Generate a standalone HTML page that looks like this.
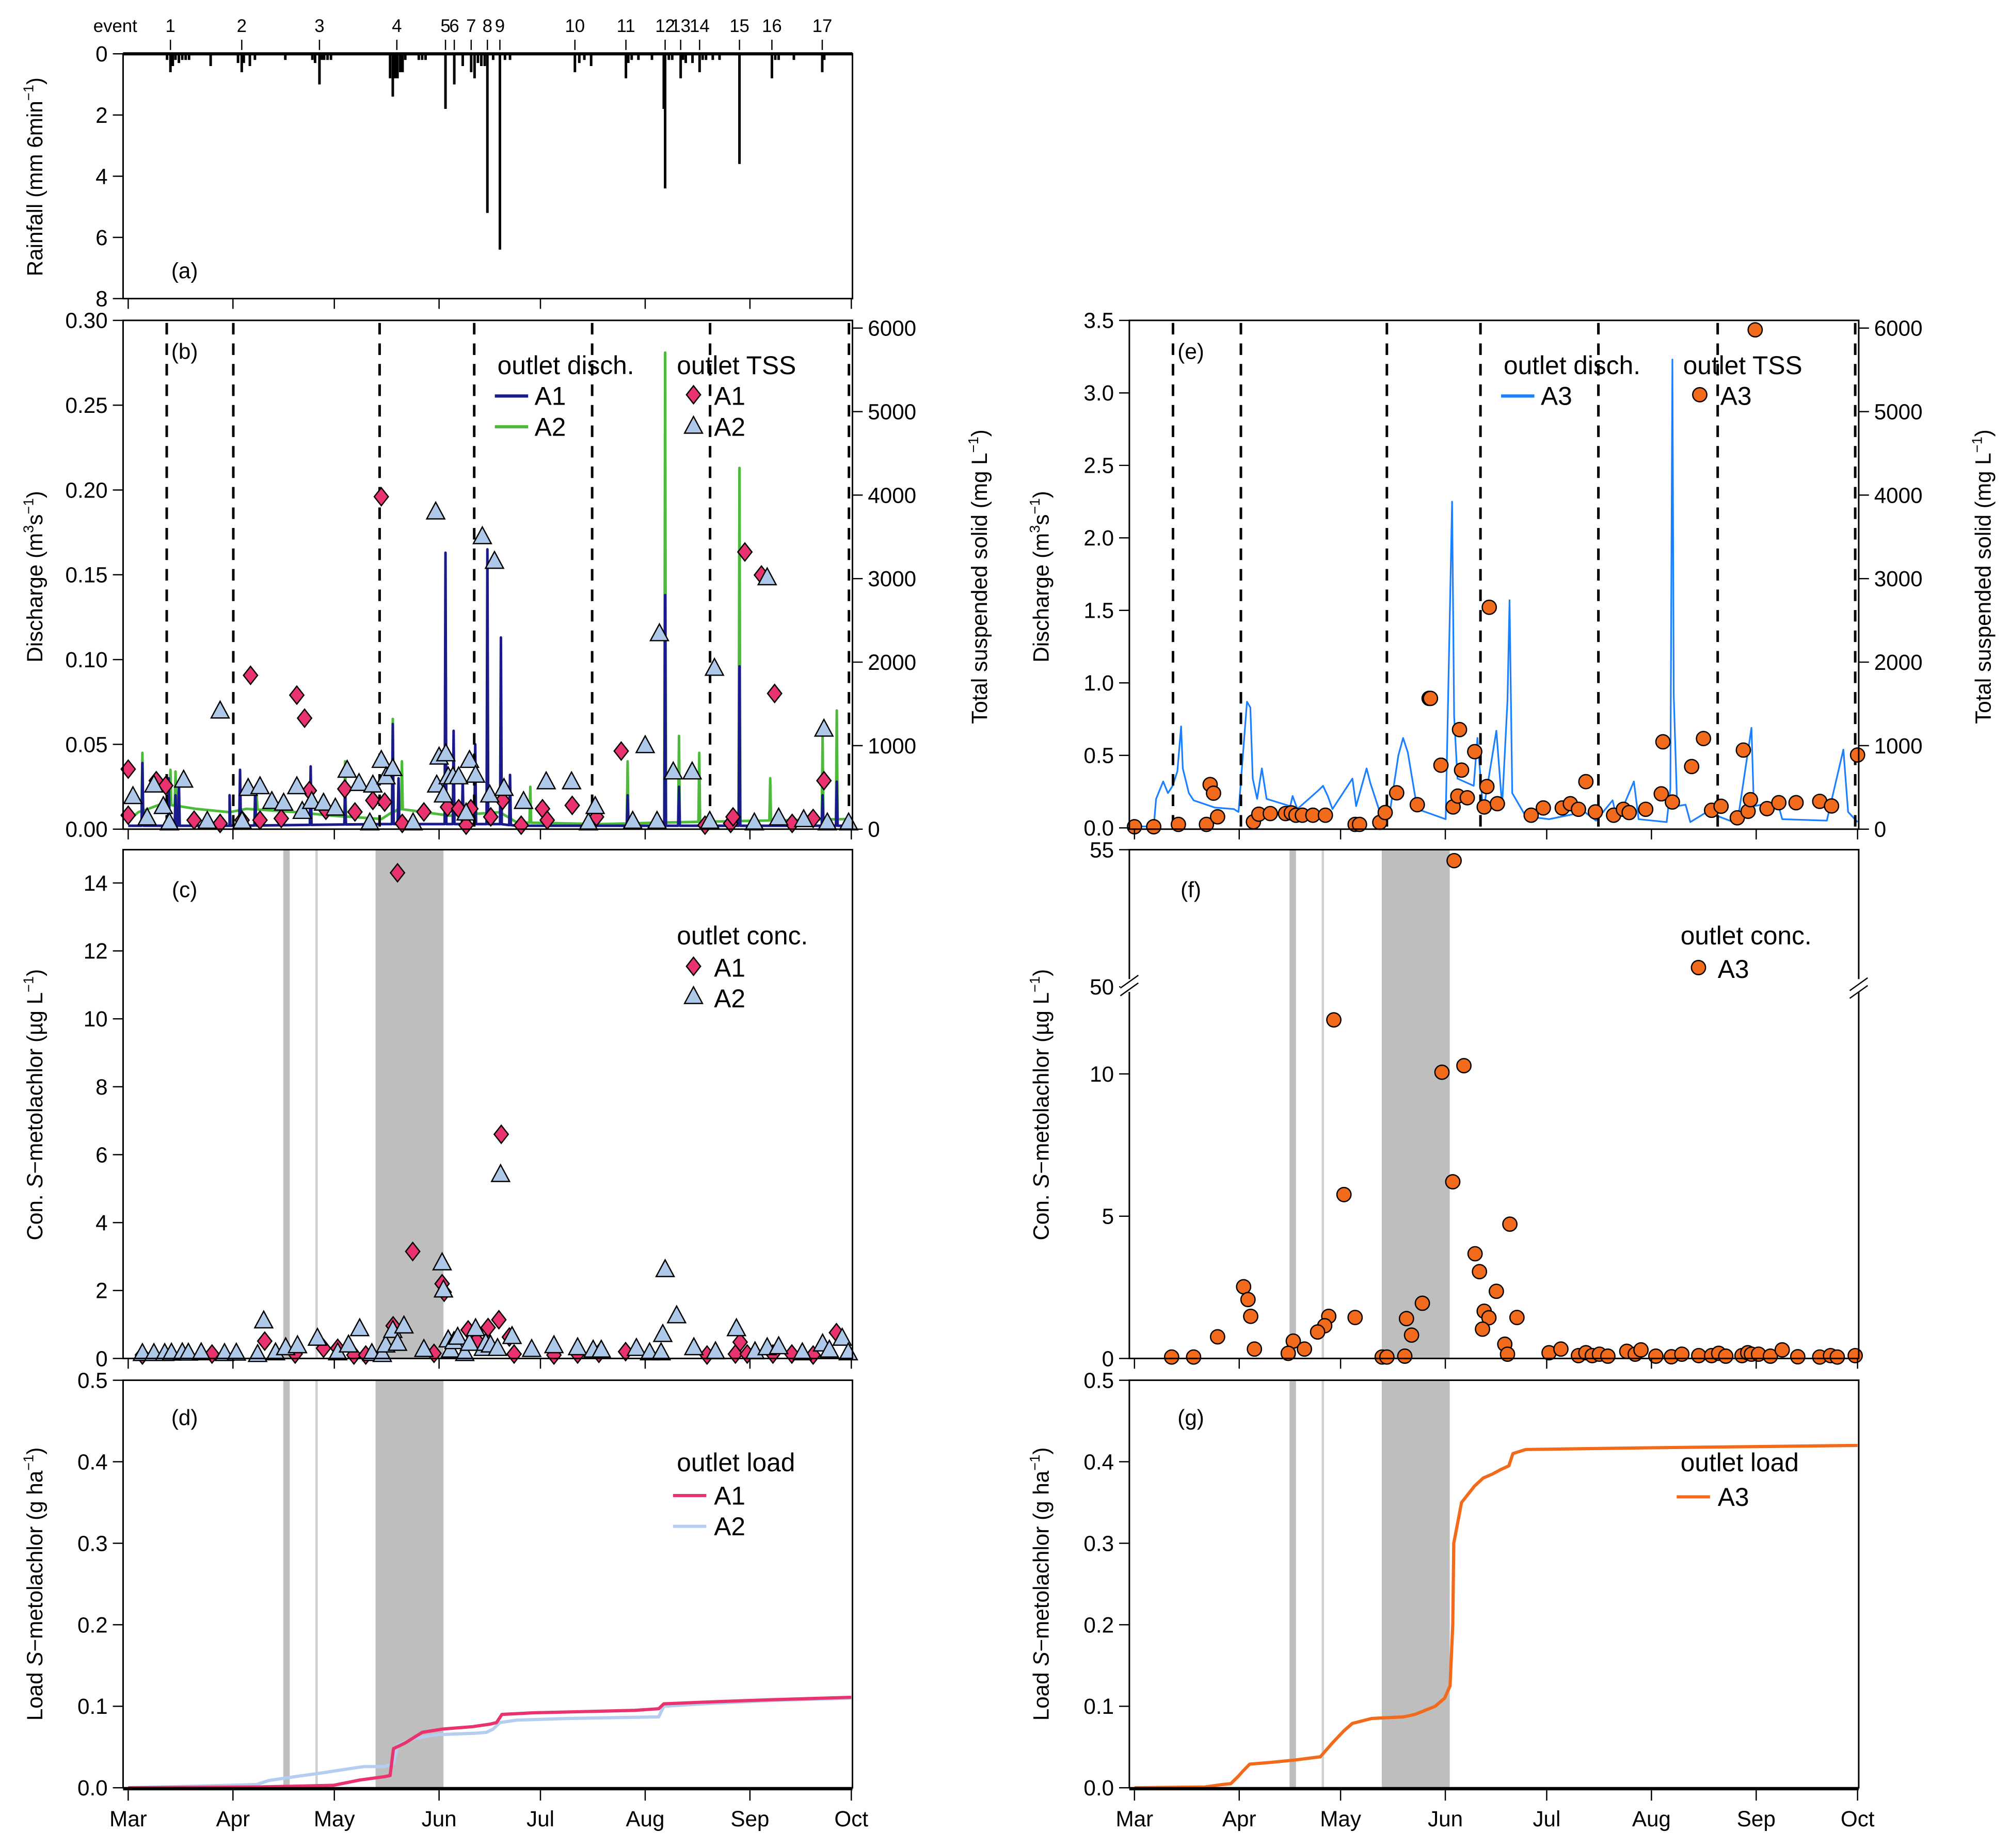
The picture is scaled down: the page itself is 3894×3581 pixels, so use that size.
<!DOCTYPE html>
<html><head><meta charset="utf-8">
<style>
html,body{margin:0;padding:0;background:#fff;}
svg{display:block;font-family:"Liberation Sans",sans-serif;}
</style></head>
<body>
<svg id="chart" xmlns="http://www.w3.org/2000/svg" width="3894" height="3581" viewBox="0 0 1568 1442"></svg>
<script>
// ---------- DATA ----------
const monthLabels = ["Mar","Apr","May","Jun","Jul","Aug","Sep","Oct"];
const monthDays = [0,31,61,92,122,153,184,214];
const eventLabels = ["1","2","3","4","5","6","7","8","9","10","11","12","13","14","15","16","17"];
const eventDays = [12.5,33.6,56.6,79.5,93.9,96.5,101.5,106.3,110,132.2,147.3,158.9,163.5,169.1,180.9,190.5,205.4];
const rainDays = [11.5,12.5,13.2,14,15,16,17,18,24.4,32.5,33.6,34.2,36,37.5,46.5,54.5,55.3,56.6,57.3,58,59,60,77.5,78.3,79,79.7,80.5,81.2,82,86,87,88,93.9,96.5,99,101.5,102.5,103.5,104.5,105.5,106.3,108,110,111.5,113,132.2,133.5,135,137,147.3,148,149,151,155,158.5,158.9,160,161,163.5,164.2,165,167,169.1,170,171,173,175,180.9,190.5,191.5,192.5,197,205.4,206];
const rainVals = [0.2,0.6,0.4,0.2,0.3,0.2,0.2,0.2,0.4,0.3,0.6,0.3,0.4,0.2,0.2,0.2,0.3,1.0,0.2,0.2,0.2,0.2,0.8,1.4,0.8,0.8,0.6,0.6,0.2,0.2,0.2,0.2,1.8,1.0,0.4,0.6,0.8,0.3,0.4,0.4,5.2,0.2,6.4,0.2,0.2,0.6,0.3,0.2,0.4,0.8,0.3,0.2,0.2,0.2,1.8,4.4,0.2,0.2,0.8,0.2,0.3,0.3,0.6,0.2,0.2,0.2,0.2,3.6,0.8,0.2,0.2,0.2,0.6,0.2];

const dashDaysL = [11.4,31.1,74.4,102.4,137.3,172.2,213.3];
const dashDaysR = [11.4,31.5,74.7,102.4,137.3,172.6,213.3];

// discharge A1/A2: baseline + spikes
const a1BaseDays = [0,30,75,110,115,214];
const a1BaseVals = [0.002,0.002,0.003,0.003,0.002,0.002];
const a1SpikeDays = [4.2,12,14,15,30,33.1,37.6,54,64.2,78.3,80,93.9,96.3,99,102.7,106.3,110.3,113,147.8,158.9,163,180.9,205.5,209.7];
const a1SpikeVals = [0.039,0.03,0.02,0.028,0.02,0.035,0.025,0.037,0.02,0.062,0.03,0.163,0.058,0.03,0.05,0.165,0.113,0.032,0.02,0.138,0.025,0.096,0.02,0.028];
const a2BaseDays = [0,3,10,20,30,35,50,60,75,80,95,110,115,140,160,214];
const a2BaseVals = [0.005,0.01,0.015,0.012,0.01,0.012,0.01,0.008,0.006,0.012,0.008,0.01,0.004,0.003,0.004,0.006];
const a2SpikeDays = [4.2,12.5,14,38,64.2,78.3,81,119,147.8,158.9,163,169,180.9,190,205.5,209.7];
const a2SpikeVals = [0.045,0.035,0.034,0.02,0.04,0.065,0.04,0.025,0.04,0.281,0.055,0.045,0.213,0.03,0.055,0.07];

const tssA1Days = [0,0,8.3,11.1,19.5,27.2,33.7,36.2,39,45.3,49.9,52.2,53.6,58.5,64.1,67.1,72.4,75.9,74.9,81.1,87.5,94.5,97.8,100,101.4,107.3,110.8,116.3,122.6,124,131.4,138.6,145.9,170.7,178.3,179,182.5,187.4,191.3,196.5,202.7,205.9];
const tssA1Vals = [719,167,581,522,108,69,108,1842,108,128,1605,1329,462,226,482,206,344,324,3981,69,206,265,245,48,245,147,344,48,245,108,285,147,935,48,69,147,3319,3043,1625,69,128,581];
const tssA2Days = [1.4,5.6,7.6,10.4,12.2,16.4,23.4,27.2,33.7,35.5,39,42.5,46,49.9,51.5,54.3,57.8,61.3,64.8,68.3,71.5,72.4,74.9,76.3,78.3,84.3,91,91.3,92,93.3,94,94.7,96.1,97.8,100,101,102.8,104.8,107,108.4,111.2,117,123.7,131.2,136.2,138.2,149.3,153,156.5,157.2,161.3,166.9,172.1,173.5,185.3,189.1,192.5,199.9,205.9,206.9,213.2];
const tssA2Vals = [384,128,522,265,69,581,88,1408,88,482,502,325,305,502,206,325,305,246,699,541,69,522,817,620,719,69,3792,522,857,403,896,620,620,620,187,817,640,3496,403,3201,482,325,561,561,69,265,88,994,88,2334,679,679,88,1920,69,3004,128,108,1191,69,69];

const qA3Days = [0,0.1,0.8,5.7,6.4,8.5,9.9,11.3,12.7,13.8,14.3,16.1,17.5,23.8,29.4,30.8,33.3,34.3,35,36.3,37.7,39.1,46.1,46.8,48.2,54.5,55.8,57.2,58.6,64.5,65.6,68.7,69.8,72.6,75.4,78.1,79.5,80.9,83.7,92.1,94,94.6,95.6,100.4,101.5,103.2,107.1,108.8,110.4,111,111.8,115.8,122.7,133.2,136.6,141.5,142.9,147.8,149.2,157.5,158.6,159.2,159.6,160.6,163.1,164.5,169.4,178.4,182.6,183.3,190.3,191.7,204.9,209.8,211.2,214];
const qA3Vals = [0.05,0.05,0.01,0.01,0.2,0.32,0.24,0.29,0.39,0.7,0.41,0.24,0.19,0.14,0.13,0.11,0.87,0.83,0.34,0.2,0.41,0.2,0.15,0.22,0.13,0.26,0.29,0.22,0.13,0.34,0.15,0.41,0.31,0.11,0.08,0.5,0.62,0.52,0.13,0.06,2.25,0.77,0.34,0.29,0.62,0.11,0.67,0.15,0.88,1.57,0.24,0.08,0.06,0.11,0.05,0.19,0.05,0.32,0.06,0.04,0.27,3.23,0.91,0.15,0.16,0.04,0.11,0.03,0.69,0.15,0.18,0.06,0.05,0.54,0.11,0.04];
const tssA3Days = [0,5.7,13,21.3,22.4,23.4,24.6,35.2,36.8,40.2,44.7,46.4,47.8,49.7,52.8,56.5,65.3,66.6,72.6,74.2,77.6,83.7,87.2,87.6,90.7,94.3,95.7,96.2,96.8,98.5,100.7,103.5,104.3,105,107.4,117.4,121,126.6,129,131.4,133.6,136.4,141.8,144.7,146.4,151.3,155.9,156.4,159.2,164.9,168.4,170.8,173.6,178.4,180.2,181.6,182.3,183.7,187.2,190.7,195.8,202.8,206.3,214];
const tssA3Vals = [29,29,57,57,534,431,148,88,179,187,187,195,167,167,167,167,57,57,81,199,435,293,1566,1566,766,266,396,1192,707,376,928,266,510,2657,305,167,254,254,305,238,569,207,167,238,199,238,423,1046,325,750,1085,226,274,136,947,214,353,5979,246,317,317,333,278,888];

const concA1Days = [4.2,24.8,40.4,49.4,57.8,62,66.8,70.3,78.4,79.7,84.2,90.5,92.9,93.5,100.6,103.1,106.5,109.7,110.4,112.8,114.2,126,133,139.3,147.2,171.3,179.7,181.1,183.2,190.8,196.4,202.7,209.6];
const concA1Vals = [0.1,0.13,0.51,0.13,0.3,0.3,0.1,0.1,0.96,14.3,3.15,0.15,2.2,1.95,0.84,0.53,0.91,1.14,6.6,0.63,0.13,0.1,0.13,0.15,0.2,0.1,0.13,0.48,0.13,0.13,0.13,0.1,0.76];
const concA2Days = [4.2,7.6,10.8,12.8,16,17.8,21.6,28.5,32,38.3,40.1,43.6,46.6,50.1,56,62,65.2,68.5,72.1,75.2,76.2,78.3,79.7,81.6,87.5,92.9,93.3,94.7,95.4,96.4,97.5,99.6,101,102.8,105.1,105.8,107.2,109.3,110.2,113.6,119.4,126,133,137.6,140,150.4,154.3,157.7,158.2,158.9,162.3,167.4,173.8,180,185.5,189.1,192.5,199.5,205.5,207.5,211.3,213.1];
const concA2Vals = [0.13,0.13,0.13,0.14,0.15,0.14,0.15,0.13,0.14,0.1,1.09,0.15,0.3,0.36,0.58,0.15,0.38,0.86,0.13,0.1,0.38,0.81,0.43,0.94,0.25,2.8,2.0,0.53,0.23,0.48,0.61,0.13,0.43,0.86,0.28,0.43,0.38,0.28,5.4,0.63,0.25,0.36,0.3,0.23,0.23,0.28,0.15,0.15,0.69,2.6,1.24,0.3,0.18,0.86,0.18,0.3,0.33,0.15,0.41,0.23,0.58,0.15];

const concA3Days = [94.6,59,91,97.5,94.2,62,111.1,100.8,102.1,107.1,32.3,33.6,34.4,103.5,104.9,113.2,85.2,80.5,65.3,57.5,56.3,54.2,82,103,24.6,47,50.3,35.5,45.5,109.6,110.4,11,17.5,73.3,74.7,80,122.7,126.2,131.4,133.6,135.5,137.6,140.1,145.7,148.2,149.9,154.3,158.9,162,167,170.8,172.9,175,179.8,181.5,182.6,184.7,188.2,191.7,196.3,202.8,206,208,213.3];
const concA3Vals = [54.6,11.9,10.06,10.29,6.21,5.76,4.72,3.68,3.05,2.36,2.52,2.07,1.48,1.66,1.43,1.44,1.94,1.4,1.44,1.48,1.15,0.93,0.82,1.03,0.76,0.61,0.33,0.33,0.18,0.5,0.15,0.05,0.05,0.05,0.05,0.08,0.2,0.33,0.1,0.2,0.1,0.15,0.08,0.25,0.15,0.3,0.08,0.06,0.15,0.1,0.1,0.18,0.08,0.1,0.2,0.15,0.15,0.08,0.3,0.06,0.05,0.1,0.05,0.1];

const loadA1Days = [0,38,50,60.7,68.5,75.9,77.5,78.5,82,87,93,102,107,109,110.6,120,150,157,158.5,170,190,214];
const loadA1Vals = [0,0.001,0.002,0.003,0.0095,0.0137,0.015,0.048,0.055,0.068,0.072,0.075,0.078,0.08,0.09,0.092,0.095,0.097,0.103,0.105,0.108,0.111];
const loadA2Days = [0,20,30,38,41.7,50,57,68,70,76,78.5,79.7,84,91,103,106,108,110,115,130,157,158.5,170,190,214];
const loadA2Vals = [0,0.002,0.003,0.004,0.009,0.014,0.018,0.025,0.026,0.026,0.03,0.052,0.06,0.065,0.067,0.068,0.072,0.08,0.083,0.085,0.087,0.1,0.103,0.107,0.11];
const loadA3Days = [0,20.9,26,28.5,30.7,32,34.1,40,47.4,55,58.8,62,64.5,70.2,79.7,83,85.4,89,91.8,93.4,94.2,94.5,96.8,100.6,103.2,106,108.2,110.8,112,115.8,150,214];
const loadA3Vals = [0,0.001,0.004,0.005,0.014,0.02,0.029,0.031,0.034,0.038,0.056,0.07,0.079,0.085,0.087,0.09,0.094,0.1,0.11,0.125,0.2,0.3,0.35,0.37,0.38,0.385,0.39,0.395,0.41,0.415,0.417,0.42];

const shadeStart = [45.9,55.4,73.2];
const shadeEnd = [47.8,56.1,93.3];

// ---------- HELPERS ----------
const NS = "http://www.w3.org/2000/svg";
const svg = document.getElementById("chart");
function mk(tag, attrs, name, parent) {
  const el = document.createElementNS(NS, tag);
  for (const k in attrs) el.setAttribute(k, attrs[k]);
  
  
  (parent || svg).appendChild(el);
  return el;
}
function txt(x, y, s, size, name, anchor, parent) {
  const t = mk("text", {x:x, y:y, "font-size":size, "text-anchor":anchor||"middle", fill:"#000"}, name, parent);
  t.textContent = s;
  return t;
}
const XL0 = 100, XR0 = 885, PXD = 2.636;
const xL = d => XL0 + d*PXD;
const xR = d => XR0 + d*PXD;
function lin(v0, v1, p0, p1) { return v => p0 + (v - v0)/(v1 - v0)*(p1 - p0); }

function box(x0, x1, y0, y1, name) {
  mk("rect", {x:x0, y:y0, width:x1-x0, height:y1-y0, fill:"none", stroke:"#000", "stroke-width":1.2}, name);
}
function yAxis(x, vals, labels, sc, name, side) {
  const g = mk("g", {}, name);
  const dir = side === "right" ? 1 : -1;
  vals.forEach((v, i) => {
    const y = sc(v);
    mk("line", {x1:x, x2:x+dir*8, y1:y, y2:y, stroke:"#000", "stroke-width":1}, "y-tick", g);
    txt(x + dir*12, y + 6, labels[i], 17, "y-tick-label", side === "right" ? "start" : "end", g);
  });
}
function xTicks(xf, y, withLabels, name) {
  const g = mk("g", {}, name);
  monthDays.forEach((d, i) => {
    mk("line", {x1:xf(d), x2:xf(d), y1:y, y2:y+8, stroke:"#000", "stroke-width":1}, "x-tick", g);
    if (withLabels) txt(xf(d), y + 28, monthLabels[i], 17, "x-tick-label", "middle", g);
  });
}
function rotTitle(x, y, html, name) {
  const t = mk("text", {x:0, y:0, "font-size":17, "text-anchor":"middle", transform:`translate(${x},${y}) rotate(-90)`}, name);
  t.innerHTML = html;
}
function diamond(x, y, g) {
  mk("polygon", {points:`${x},${y-7} ${x+5.5},${y} ${x},${y+7} ${x-5.5},${y}`, fill:"#e8336e", stroke:"#000", "stroke-width":1}, "a1-diamond", g);
}
function tri(x, y, g) {
  mk("polygon", {points:`${x},${y-8} ${x+7},${y+5} ${x-7},${y+5}`, fill:"#aec8ea", stroke:"#000", "stroke-width":1}, "a2-triangle", g);
}
function circ(x, y, g) {
  mk("circle", {cx:x, cy:y, r:5.5, fill:"#f26a1b", stroke:"#000", "stroke-width":1}, "a3-circle", g);
}
function polyline(days, vals, xf, yf, color, w, name) {
  const pts = days.map((d, i) => `${xf(d).toFixed(2)},${yf(vals[i]).toFixed(2)}`).join(" ");
  mk("polyline", {points:pts, fill:"none", stroke:color, "stroke-width":w, "stroke-linejoin":"round"}, name);
}
function spikeSeries(bd, bv, sd, sv) {
  const base = d => { for (let i=0;i<bd.length-1;i++){ if (d>=bd[i] && d<=bd[i+1]) return bv[i]+(bv[i+1]-bv[i])*(d-bd[i])/(bd[i+1]-bd[i]); } return bv[bv.length-1]; };
  const pts = [];
  bd.forEach((d,i)=>pts.push([d, bv[i]]));
  sd.forEach((d,i)=>{ pts.push([Math.max(0,d-0.25), base(d)]); pts.push([d, sv[i]]); pts.push([Math.min(214,d+0.25), base(d)]); });
  pts.sort((a,b)=>a[0]-b[0]);
  return [pts.map(p=>p[0]), pts.map(p=>p[1])];
}
function dashes(days, xf, y0, y1, name) {
  const g = mk("g", {}, name);
  days.forEach(d => mk("line", {x1:xf(d), x2:xf(d), y1:y0, y2:y1, stroke:"#000", "stroke-width":2, "stroke-dasharray":"9,7"}, "event-divider", g));
}
function shades(xf, y0, y1, name) {
  const g = mk("g", {}, name);
  shadeStart.forEach((s, i) => {
    mk("rect", {x:xf(s), y:y0, width:xf(shadeEnd[i])-xf(s), height:y1-y0, fill: i===1 ? "#cfcfcf" : "#bebebe"}, "application-period", g);
  });
}

// ---------- PANEL A ----------
const yRain = lin(0, 8, 42, 233);
box(96, 665, 42, 233, "panel-a-frame");
yAxis(96, [0,2,4,6,8], ["0","2","4","6","8"], yRain, "rain-y-axis", "left");
{
  const g = mk("g", {}, "rain-bars");
  rainDays.forEach((d, i) => mk("line", {x1:xL(d), x2:xL(d), y1:yRain(0), y2:yRain(rainVals[i]), stroke:"#000", "stroke-width":2}, "rain-bar", g));
}
mk("line", {x1:96, x2:665, y1:42, y2:42, stroke:"#000", "stroke-width":2.5}, "rain-zero-line");
{
  const g = mk("g", {}, "event-markers");
  txt(107, 25, "event", 14, "event-label-title", "end", g);
  eventDays.forEach((d, i) => {
    mk("line", {x1:xL(d), x2:xL(d), y1:31, y2:39, stroke:"#000", "stroke-width":1}, "event-tick", g);
    txt(xL(d), 25, eventLabels[i], 14, "event-label", "middle", g);
  });
}
txt(144, 217, "(a)", 17, "panel-label-a", "middle");
rotTitle(33, 138, 'Rainfall (mm 6min<tspan dy="-7" font-size="11">−1</tspan><tspan dy="7">)</tspan>', "rain-y-title");
xTicks(xL, 233, false, "panel-a-x-ticks");

// ---------- PANEL B ----------
const yQb = lin(0, 0.3, 647, 250);
const yTss = lin(0, 6000, 647, 256);
{
  const [d2, v2] = spikeSeries(a2BaseDays, a2BaseVals, a2SpikeDays, a2SpikeVals);
  polyline(d2, v2, xL, yQb, "#4dbb3a", 2, "a2-discharge-line");
  const [d1, v1] = spikeSeries(a1BaseDays, a1BaseVals, a1SpikeDays, a1SpikeVals);
  polyline(d1, v1, xL, yQb, "#1a1a8c", 2, "a1-discharge-line");
}
dashes(dashDaysL, xL, 252, 647, "panel-b-event-dividers");
{
  const g = mk("g", {}, "tss-a1-points");
  tssA1Days.forEach((d, i) => diamond(xL(d), yTss(tssA1Vals[i]), g));
  const g2 = mk("g", {}, "tss-a2-points");
  tssA2Days.forEach((d, i) => tri(xL(d), yTss(tssA2Vals[i]), g2));
}
box(96, 665, 250, 647, "panel-b-frame");
yAxis(96, [0,0.05,0.1,0.15,0.2,0.25,0.3], ["0.00","0.05","0.10","0.15","0.20","0.25","0.30"], yQb, "discharge-y-axis-b", "left");
yAxis(665, [0,1000,2000,3000,4000,5000,6000], ["0","1000","2000","3000","4000","5000","6000"], yTss, "tss-y-axis-b", "right");
xTicks(xL, 647, false, "panel-b-x-ticks");
txt(144, 280, "(b)", 17, "panel-label-b", "middle");
rotTitle(33, 450, 'Discharge (m<tspan dy="-7" font-size="11">3</tspan><tspan dy="7">s</tspan><tspan dy="-7" font-size="11">−1</tspan><tspan dy="7">)</tspan>', "discharge-y-title-b");
rotTitle(770, 450, 'Total suspended solid (mg L<tspan dy="-7" font-size="11">−1</tspan><tspan dy="7">)</tspan>', "tss-y-title-b");
{
  const g = mk("g", {}, "legend-b");
  txt(388, 292, "outlet disch.", 20, "legend-title", "start", g);
  mk("line", {x1:386, x2:412, y1:309, y2:309, stroke:"#1a1a8c", "stroke-width":2.5}, "legend-a1-line", g);
  txt(417, 316, "A1", 20, "legend-label", "start", g);
  mk("line", {x1:386, x2:412, y1:333, y2:333, stroke:"#4dbb3a", "stroke-width":2.5}, "legend-a2-line", g);
  txt(417, 340, "A2", 20, "legend-label", "start", g);
  txt(528, 292, "outlet TSS", 20, "legend-title", "start", g);
  diamond(541, 308, g);
  txt(557, 316, "A1", 20, "legend-label", "start", g);
  tri(541, 333, g);
  txt(557, 340, "A2", 20, "legend-label", "start", g);
}

// ---------- PANEL C ----------
const yC = lin(0, 14, 1060, 689);
shades(xL, 663, 1060, "panel-c-shading");
{
  const g = mk("g", {}, "conc-a1-points");
  concA1Days.forEach((d, i) => diamond(xL(d), yC(concA1Vals[i]), g));
  const g2 = mk("g", {}, "conc-a2-points");
  concA2Days.forEach((d, i) => tri(xL(d), yC(concA2Vals[i]), g2));
}
box(96, 665, 663, 1060, "panel-c-frame");
yAxis(96, [0,2,4,6,8,10,12,14], ["0","2","4","6","8","10","12","14"], yC, "conc-y-axis-c", "left");
xTicks(xL, 1060, false, "panel-c-x-ticks");
txt(144, 700, "(c)", 17, "panel-label-c", "middle");
rotTitle(33, 862, 'Con. <tspan font-style="italic">S</tspan>−metolachlor (µg L<tspan dy="-7" font-size="11">−1</tspan><tspan dy="7">)</tspan>', "conc-y-title-c");
{
  const g = mk("g", {}, "legend-c");
  txt(528, 737, "outlet conc.", 20, "legend-title", "start", g);
  diamond(541, 754, g);
  txt(557, 762, "A1", 20, "legend-label", "start", g);
  tri(541, 778, g);
  txt(557, 786, "A2", 20, "legend-label", "start", g);
}

// ---------- PANEL D ----------
const yD = lin(0, 0.5, 1395, 1077);
shades(xL, 1077, 1395, "panel-d-shading");
polyline(loadA2Days, loadA2Vals, xL, yD, "#b4cdf0", 2.5, "a2-load-line");
polyline(loadA1Days, loadA1Vals, xL, yD, "#e8336e", 2.5, "a1-load-line");
box(96, 665, 1077, 1395, "panel-d-frame");
yAxis(96, [0,0.1,0.2,0.3,0.4,0.5], ["0.0","0.1","0.2","0.3","0.4","0.5"], yD, "load-y-axis-d", "left");
xTicks(xL, 1397, true, "month-x-axis-left");
txt(144, 1112, "(d)", 17, "panel-label-d", "middle");
rotTitle(33, 1236, 'Load <tspan font-style="italic">S</tspan>−metolachlor (g ha<tspan dy="-7" font-size="11">−1</tspan><tspan dy="7">)</tspan>', "load-y-title-d");
{
  const g = mk("g", {}, "legend-d");
  txt(528, 1148, "outlet load", 20, "legend-title", "start", g);
  mk("line", {x1:525, x2:551, y1:1167, y2:1167, stroke:"#e8336e", "stroke-width":2.5}, "legend-a1-line", g);
  txt(557, 1174, "A1", 20, "legend-label", "start", g);
  mk("line", {x1:525, x2:551, y1:1191, y2:1191, stroke:"#b4cdf0", "stroke-width":2.5}, "legend-a2-line", g);
  txt(557, 1198, "A2", 20, "legend-label", "start", g);
}

// ---------- PANEL E ----------
const yQe = lin(0, 3.5, 646, 250);
polyline(qA3Days, qA3Vals, xR, yQe, "#1a80ff", 1.3, "a3-discharge-line");
dashes(dashDaysR, xR, 252, 647, "panel-e-event-dividers");
{
  const g = mk("g", {}, "tss-a3-points");
  tssA3Days.forEach((d, i) => circ(xR(d), yTss(tssA3Vals[i]), g));
}
box(881, 1450, 250, 647, "panel-e-frame");
yAxis(881, [0,0.5,1,1.5,2,2.5,3,3.5], ["0.0","0.5","1.0","1.5","2.0","2.5","3.0","3.5"], yQe, "discharge-y-axis-e", "left");
yAxis(1450, [0,1000,2000,3000,4000,5000,6000], ["0","1000","2000","3000","4000","5000","6000"], yTss, "tss-y-axis-e", "right");
xTicks(xR, 647, false, "panel-e-x-ticks");
txt(929, 280, "(e)", 17, "panel-label-e", "middle");
rotTitle(818, 450, 'Discharge (m<tspan dy="-7" font-size="11">3</tspan><tspan dy="7">s</tspan><tspan dy="-7" font-size="11">−1</tspan><tspan dy="7">)</tspan>', "discharge-y-title-e");
rotTitle(1553, 450, 'Total suspended solid (mg L<tspan dy="-7" font-size="11">−1</tspan><tspan dy="7">)</tspan>', "tss-y-title-e");
{
  const g = mk("g", {}, "legend-e");
  txt(1173, 292, "outlet disch.", 20, "legend-title", "start", g);
  mk("line", {x1:1171, x2:1197, y1:309, y2:309, stroke:"#1a80ff", "stroke-width":2.5}, "legend-a3-line", g);
  txt(1202, 316, "A3", 20, "legend-label", "start", g);
  txt(1313, 292, "outlet TSS", 20, "legend-title", "start", g);
  circ(1326, 308, g);
  txt(1342, 316, "A3", 20, "legend-label", "start", g);
}

// ---------- PANEL F (broken axis) ----------
const yFlow = lin(0, 10, 1060, 838);
const yFhigh = lin(50, 55, 770, 663);
const yF = v => v >= 40 ? yFhigh(v) : yFlow(v);
shades(xR, 663, 1060, "panel-f-shading");
{
  const g = mk("g", {}, "conc-a3-points");
  concA3Days.forEach((d, i) => circ(xR(d), yF(concA3Vals[i]), g));
}
box(881, 1450, 663, 1060, "panel-f-frame");
yAxis(881, [0,5,10], ["0","5","10"], yFlow, "conc-y-axis-f-lower", "left");
yAxis(881, [50,55], ["50","55"], yFhigh, "conc-y-axis-f-upper", "left");
{
  const g = mk("g", {}, "axis-break-marks");
  mk("rect", {x:874, y:764, width:14, height:10, fill:"#fff"}, "break-gap-left", g);
  mk("rect", {x:1443, y:764, width:14, height:10, fill:"#fff"}, "break-gap-right", g);
  mk("line", {x1:874, x2:888, y1:771, y2:761, stroke:"#000", "stroke-width":1}, "break-slash", g);
  mk("line", {x1:874, x2:888, y1:777, y2:767, stroke:"#000", "stroke-width":1}, "break-slash", g);
  mk("line", {x1:1443, x2:1457, y1:773, y2:763, stroke:"#000", "stroke-width":1}, "break-slash", g);
  mk("line", {x1:1443, x2:1457, y1:779, y2:769, stroke:"#000", "stroke-width":1}, "break-slash", g);
}
xTicks(xR, 1060, false, "panel-f-x-ticks");
txt(929, 700, "(f)", 17, "panel-label-f", "middle");
rotTitle(818, 862, 'Con. <tspan font-style="italic">S</tspan>−metolachlor (µg L<tspan dy="-7" font-size="11">−1</tspan><tspan dy="7">)</tspan>', "conc-y-title-f");
{
  const g = mk("g", {}, "legend-f");
  txt(1311, 737, "outlet conc.", 20, "legend-title", "start", g);
  circ(1325, 755, g);
  txt(1340, 763, "A3", 20, "legend-label", "start", g);
}

// ---------- PANEL G ----------
shades(xR, 1077, 1395, "panel-g-shading");
polyline(loadA3Days, loadA3Vals, xR, yD, "#f26a1b", 2.5, "a3-load-line");
box(881, 1450, 1077, 1395, "panel-g-frame");
yAxis(881, [0,0.1,0.2,0.3,0.4,0.5], ["0.0","0.1","0.2","0.3","0.4","0.5"], yD, "load-y-axis-g", "left");
xTicks(xR, 1397, true, "month-x-axis-right");
txt(929, 1112, "(g)", 17, "panel-label-g", "middle");
rotTitle(818, 1236, 'Load <tspan font-style="italic">S</tspan>−metolachlor (g ha<tspan dy="-7" font-size="11">−1</tspan><tspan dy="7">)</tspan>', "load-y-title-g");
{
  const g = mk("g", {}, "legend-g");
  txt(1311, 1148, "outlet load", 20, "legend-title", "start", g);
  mk("line", {x1:1308, x2:1334, y1:1168, y2:1168, stroke:"#f26a1b", "stroke-width":2.5}, "legend-a3-line", g);
  txt(1340, 1175, "A3", 20, "legend-label", "start", g);
}
// thick axis baselines on bottom panels
mk("line", {x1:96, x2:665, y1:1396, y2:1396, stroke:"#000", "stroke-width":2}, "x-axis-line-left");
mk("line", {x1:881, x2:1450, y1:1396, y2:1396, stroke:"#000", "stroke-width":2}, "x-axis-line-right");
</script>
</body></html>
